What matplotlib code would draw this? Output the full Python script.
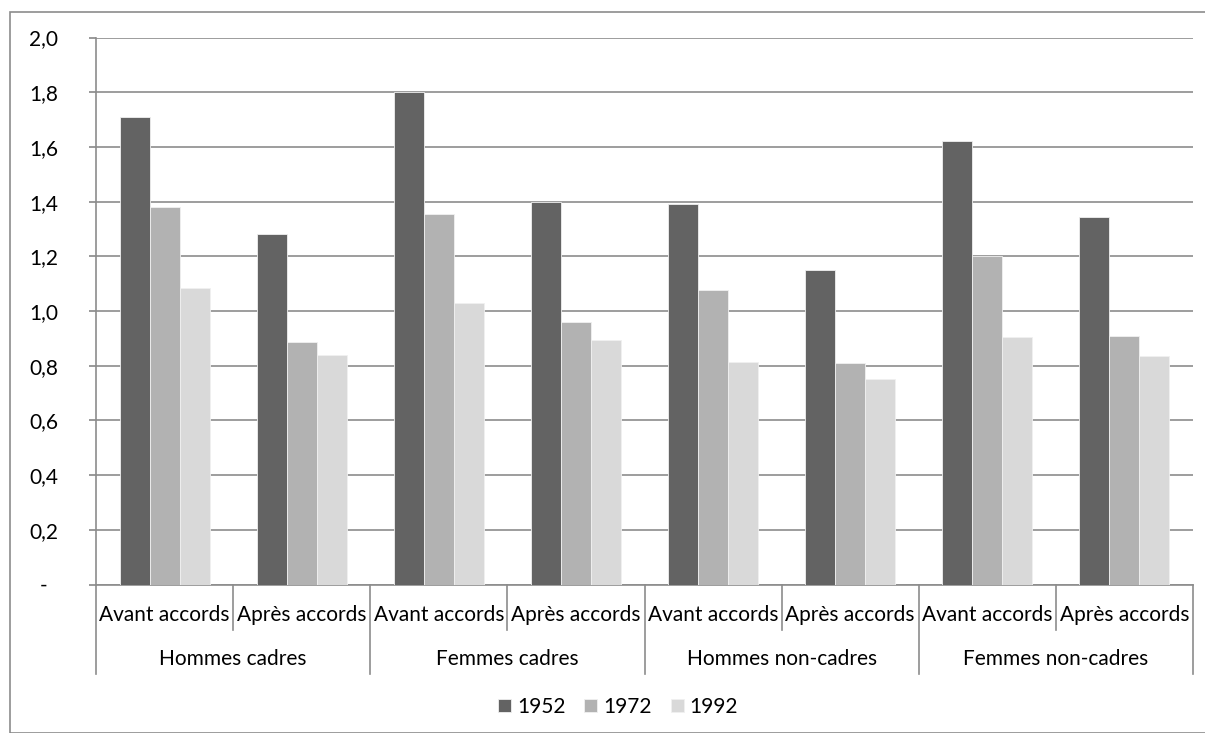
import numpy as np
import matplotlib.pyplot as plt
from matplotlib.lines import Line2D
from matplotlib.patches import Rectangle

plt.rcParams['font.family'] = ['Lato', 'DejaVu Sans']

populations = ["Hommes cadres", "Femmes cadres", "Hommes non-cadres", "Femmes non-cadres"]
periodes = ["Avant accords", "Après accords"]
annees = ["1952", "1972", "1992"]
v1952 = [1.71, 1.28, 1.80, 1.40, 1.39, 1.15, 1.62, 1.345]
v1972 = [1.38, 0.885, 1.355, 0.96, 1.075, 0.81, 1.20, 0.91]
v1992 = [1.085, 0.84, 1.03, 0.895, 0.815, 0.75, 0.905, 0.835]
yticks = [0, 0.2, 0.4, 0.6, 0.8, 1.0, 1.2, 1.4, 1.6, 1.8, 2.0]

colors = ['#636363', '#b2b2b2', '#d9d9d9']
W, H = 1205, 733
fs = 15

fig = plt.figure(figsize=(W / 100, H / 100), dpi=100)
# chart area frame (runs off the right/bottom edge)
fig.patches.append(Rectangle((10 / W, 0), 1.2, 1 - 12 / H, transform=fig.transFigure,
                             fill=False, edgecolor='#8c8c8c', lw=1.2))

x0, x1, ytop, ybot = 96, 1193, 37.5, 584.5
ax = fig.add_axes([x0 / W, 1 - ybot / H, (x1 - x0) / W, (ybot - ytop) / H])

n = len(v1952)
x = np.arange(n)
bw = 0.219
for i, (vals, c, lab) in enumerate(zip([v1952, v1972, v1992], colors, annees)):
    ax.bar(x + (i - 1) * bw, vals, bw, color=c, edgecolor='#f0f0f0', linewidth=0.6,
           label=lab, zorder=3)

ax.set_xlim(-0.5, n - 0.5)
ax.set_ylim(0, 2.0)
ax.set_yticks(yticks)
ax.set_yticklabels(['-  '] + [('%.1f' % t).replace('.', ',') for t in yticks[1:]],
                   fontsize=fs, color='black')
ax.tick_params(axis='y', length=5, color='#888888', pad=22, width=1.2)
ax.grid(axis='y', color='#8c8c8c', lw=1.2, zorder=0)
ax.set_xticks([])
for s in ['top', 'right']:
    ax.spines[s].set_visible(False)
for s in ['left', 'bottom']:
    ax.spines[s].set_color('#8c8c8c')
    ax.spines[s].set_linewidth(1.2)
for lab in ax.get_yticklabels():
    lab.set_ha('right')

# two-level category axis
trans = ax.get_xaxis_transform()
def fy(ypix):
    return (ybot - ypix) / (ybot - ytop)

for k in range(n + 1):
    long_sep = (k % 2 == 0)
    ax.add_line(Line2D([k - 0.5, k - 0.5], [0, fy(674 if long_sep else 630)], transform=trans,
                       color='#8c8c8c', lw=1.2, clip_on=False))
for k in range(n):
    ax.text(k, fy(615), periodes[k % 2], transform=trans, ha='center', va='center',
            fontsize=fs, color='black')
for j, p in enumerate(populations):
    ax.text(2 * j + 0.5, fy(659), p, transform=trans, ha='center', va='center',
            fontsize=fs, color='black')

ax.legend(loc='center', bbox_to_anchor=(618 / W, 1 - 707 / H), bbox_transform=fig.transFigure,
          ncol=3, frameon=False, fontsize=fs, handlelength=0.62, handleheight=0.62,
          handletextpad=0.3, columnspacing=0.9, borderpad=0)

fig.savefig('out.png', dpi=100)
